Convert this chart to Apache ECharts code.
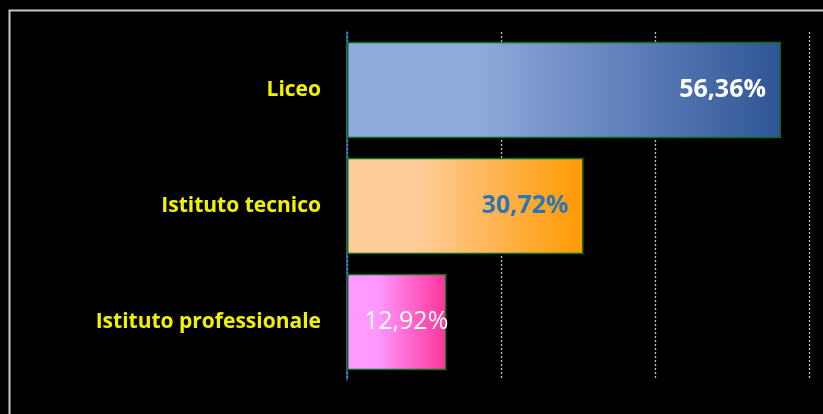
<!DOCTYPE html>
<html>
<head>
<meta charset="utf-8">
<script src="https://cdn.jsdelivr.net/npm/echarts@6/dist/echarts.min.js"></script>
<style>
  html, body { margin: 0; padding: 0; background: #000; }
  #chart { width: 823px; height: 414px; }
</style>
</head>
<body>
<div id="chart"></div>
<script>
// dati del grafico
const categories = ['Liceo', 'Istituto tecnico', 'Istituto professionale'];
const values = [56.36, 30.72, 12.92];
const axisTicks = [0, 20, 40, 60];

// colori sfumati per ogni barra [chiaro, scuro]
const barColors = [
    ['#8FAADC', '#2F5597'],
    ['#FFCC99', '#FF9900'],
    ['#FF99FF', '#FF3399']
];
const labelColors = ['#FFFFFF', '#2E75B6', '#FFFFFF'];

const chartDom = document.getElementById('chart');
let myChart = echarts.init(chartDom);
let option;

let barData = [];
for (let i = 0; i < values.length; i++) {
    let item = {
        value: values[i],
        itemStyle: {
            color: new echarts.graphic.LinearGradient(0, 0, 1, 0, [
                { offset: 0, color: barColors[i][0] },
                { offset: 0.3, color: barColors[i][0] },
                { offset: 1, color: barColors[i][1] }
            ])
        },
        label: {
            color: labelColors[i]
        }
    };
    if (i === 2) {
        item.label.position = 'insideLeft';
        item.label.distance = 17;
        item.label.fontWeight = 'normal';
    }
    barData.push(item);
}

option = {
    backgroundColor: '#000',
    animation: false,
    graphic: [{
        type: 'rect',
        left: 7,
        top: 8,
        shape: { width: 830, height: 420 },
        style: { fill: 'none', stroke: '#C8C8C8', lineWidth: 2 },
        silent: true
    }],
    grid: {
        left: 347,
        right: 14,
        top: 32,
        bottom: 34
    },
    xAxis: {
        type: 'value',
        min: axisTicks[0],
        max: axisTicks[axisTicks.length - 1],
        interval: axisTicks[1] - axisTicks[0],
        axisLabel: { show: false },
        axisLine: { show: false },
        axisTick: { show: false },
        splitLine: {
            show: true,
            lineStyle: { color: '#C4C4C4', type: [2, 2], width: 1.3 }
        }
    },
    yAxis: {
        type: 'category',
        inverse: true,
        data: categories,
        axisLine: {
            show: true,
            lineStyle: { color: '#2E75B6', width: 1.5 }
        },
        axisTick: { show: false },
        axisLabel: {
            color: '#F2F200',
            fontFamily: 'Open Sans',
            fontWeight: 'bold',
            fontSize: 21,
            margin: 26
        }
    },
    series: [{
        type: 'bar',
        barCategoryGap: '17%',
        data: barData,
        itemStyle: {
            borderColor: '#0B6E1A',
            borderWidth: 1.5
        },
        label: {
            show: true,
            position: 'insideRight',
            distance: 15,
            fontFamily: 'Open Sans',
            fontWeight: 'bold',
            fontSize: 25,
            formatter: function (params) {
                return params.value.toFixed(2).replace('.', ',') + '%';
            }
        }
    }]
};

option && myChart.setOption(option);
</script>
</body>
</html>
